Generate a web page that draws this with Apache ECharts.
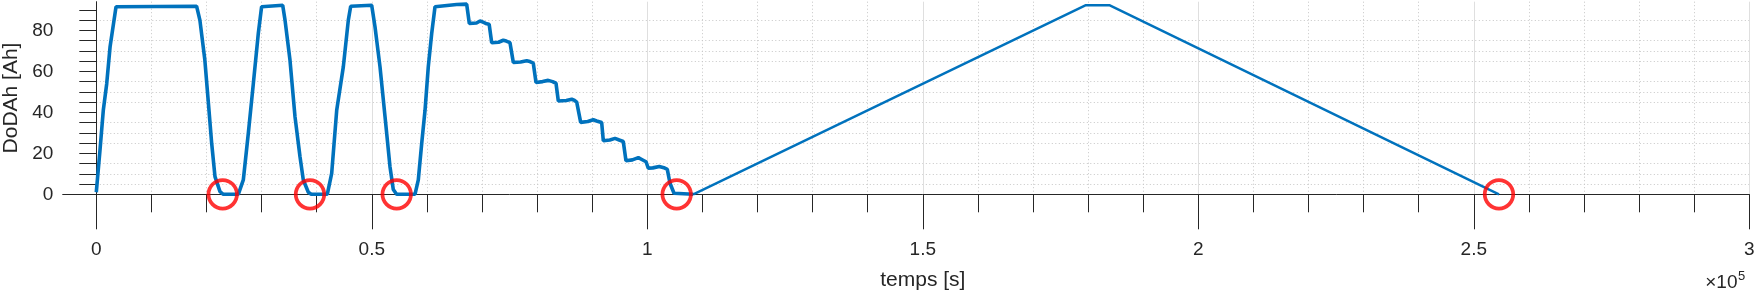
<!DOCTYPE html>
<html>
<head>
<meta charset="utf-8">
<script src="https://cdn.jsdelivr.net/npm/echarts@6/dist/echarts.min.js"></script>
<style>
html,body{margin:0;padding:0;background:#fff;}
#chart{width:1757px;height:293px;}
</style>
</head>
<body>
<div id="chart"></div>
<script>
// ---- data (time in seconds, DoD in Ah) ----
var cycleTime = [0,670,1270,1890,2500,3580,18200,18800,19700,20300,20940,21540,22450,23050,25770,
  26680,27590,28500,29400,30000,33830,34250,35150,36060,36970,37570,38480,39000,41920,
  42720,43630,44830,45740,46170,49980,50580,51490,52400,53300,53900,54500,57840,
  58440,59060,59660,60250,60870,61470,65400,67220,
  67700,69000,69640,70200,70850,71300,
  71760,73000,73870,74400,75080,
  75680,77000,78110,78700,79310,
  79800,81000,82030,82800,83430,
  83850,85300,86280,86800,87190,
  87910,89200,90200,90800,91720,
  92020,93200,94140,94900,95640,
  96130,97300,98370,99000,99770,
  100180,101000,102180,103000,103630,
  104120,104850,105200,108350];
var cycleDoD = [1,21.6,41,54,72,91.5,91.8,85,65.5,46,24.9,8.6,1.3,0,0,
  7,29.8,54,78.5,91.5,92.3,85,65.5,37.9,18.3,7,1,0,0,
  10.2,41,62.2,85,91.8,92.3,81.8,62.2,37.9,13.5,2.3,0,0,
  7,24.9,41,62.2,78.5,91.5,92.6,92.8,
  83.4,83.6,84.6,84,83.2,83,
  74,74.2,75.2,74.8,74,
  64.4,64.6,65.2,64.8,64,
  54.6,55,55.6,55,54.2,
  45.5,45.8,46.4,45.8,45,
  35.1,35.5,36.4,35.8,35,
  26.1,26.5,27.3,26.5,25.8,
  16.4,16.8,17.9,17,15.9,
  12.7,12.9,13.6,13,12.2,
  5.4,0.5,0,0];
var rampTime = [108350,179600,183850,254570];
var rampDoD  = [0,92.3,92.3,0];
var circleTime = [22940,38780,54520,105330,254570];
var circleDoD  = [0,0,0,0,0];

// ---- axes ticks ----
var xTickValues = [0,50000,100000,150000,200000,250000,300000];
var xTickLabels = ['0','0.5','1','1.5','2','2.5','3'];
var yTickValues = [0,20,40,60,80];
var yMinorTickValues = [0,5,10,15,20,25,30,35,40,45,50,55,60,65,70,75,80,85,90];

function pairs(xs, ys){ var o=[]; for(var i=0;i<xs.length;i++) o.push([xs[i], ys[i]]); return o; }

var FONT = 'Liberation Sans, Arial, Helvetica, sans-serif';
var TXT = '#262626';
var MAJ = '#dfdfdf';
var MIN = '#c6c6c6';
var YMAX = 94;

var chart = echarts.init(document.getElementById('chart'), null, {renderer:'canvas'});
chart.setOption({
  animation: false,
  backgroundColor: '#ffffff',
  textStyle: {fontFamily: FONT},
  grid: {left: 96.3, right: 7.7, top: 1.7, bottom: 98.7, containLabel: false, outerBoundsMode: 'none'},
  xAxis: {
    type: 'value', min: 0, max: 300000, interval: 50000,
    name: 'temps [s]', nameLocation: 'middle', nameGap: 75,
    nameTextStyle: {fontSize: 21, color: TXT, fontFamily: FONT},
    axisLine: {show: true, onZero: false, lineStyle: {color: TXT, width: 1}},
    axisTick: {show: true, inside: false, length: 35, lineStyle: {color: TXT, width: 1}},
    minorTick: {show: true, splitNumber: 5, length: 18, lineStyle: {color: TXT, width: 1}},
    axisLabel: {
      fontSize: 19, color: TXT, fontFamily: FONT, margin: 46,
      formatter: function(v){ var i = xTickValues.indexOf(v); return i >= 0 ? xTickLabels[i] : ''; }
    },
    splitLine: {show: true, lineStyle: {color: MAJ, width: 1}},
    minorSplitLine: {show: true, lineStyle: {color: MIN, width: 1, type: [1, 2.5]}}
  },
  yAxis: [{
    type: 'value', min: 0, max: YMAX, interval: 20, position: 'left',
    name: 'DoDAh [Ah]', nameLocation: 'middle', nameGap: 71,
    nameTextStyle: {fontSize: 21, color: TXT, fontFamily: FONT},
    axisLine: {show: true, lineStyle: {color: TXT, width: 1}},
    axisTick: {show: true, length: 34, customValues: [0], lineStyle: {color: TXT, width: 1}},
    axisLabel: {show: true, customValues: yTickValues, fontSize: 19, color: TXT, fontFamily: FONT, margin: 43},
    splitLine: {show: true, showMaxLine: false, lineStyle: {color: MAJ, width: 1}}
  }, {
    type: 'value', min: 0, max: YMAX, interval: 5, position: 'left',
    axisLine: {show: false},
    axisTick: {show: true, length: 17, customValues: yMinorTickValues, lineStyle: {color: TXT, width: 1}},
    axisLabel: {show: false},
    splitLine: {show: true, showMaxLine: false, lineStyle: {color: ['rgba(0,0,0,0)', MIN, MIN, MIN], width: 1, type: [1, 2.5]}}
  }],
  series: [{
    type: 'line', name: 'cycles', data: pairs(cycleTime, cycleDoD),
    showSymbol: false, symbol: 'none', clip: false, z: 3,
    lineStyle: {color: '#0072BD', width: 3.6}
  }, {
    type: 'line', name: 'rampe', data: pairs(rampTime, rampDoD),
    showSymbol: false, symbol: 'none', clip: false, z: 3,
    lineStyle: {color: '#0072BD', width: 2.4}
  }, {
    type: 'scatter', name: 'fin', data: pairs(circleTime, circleDoD),
    symbol: 'circle', symbolSize: 28.5, clip: false, z: 4,
    itemStyle: {color: 'rgba(0,0,0,0)', borderColor: '#FF0000', borderWidth: 3.8}
  }],
  graphic: [
    {type: 'text', right: 1757 - 1737.5, top: 273, style: {text: '\u00d710', fontSize: 19, fontFamily: FONT, fill: TXT}},
    {type: 'text', left: 1738, top: 269.5, style: {text: '5', fontSize: 13, fontFamily: FONT, fill: TXT}}
  ]
});
</script>
</body>
</html>
